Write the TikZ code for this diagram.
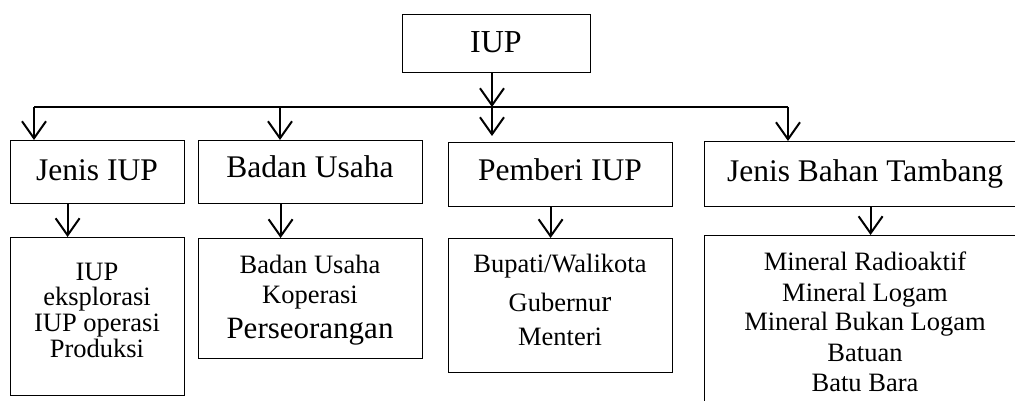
\documentclass[tikz,border=0pt]{standalone}
\usepackage{fontspec}
\setmainfont{Liberation Serif}
\usetikzlibrary{arrows.meta}
\begin{document}
\begin{tikzpicture}[x=1pt,y=-1pt,
  box/.style={draw, line width=1.2pt, inner sep=0pt, anchor=north west},
  conn/.style={line width=2pt, -{Straight Barb[length=17pt,width=24pt,line width=2pt]}},
  bus/.style={line width=2pt},
  lab/.style={font=\fontsize{31.5}{36}\selectfont, anchor=base, inner sep=0pt},
  sm/.style={font=\fontsize{26.5}{30}\selectfont, anchor=base, inner sep=0pt}]
\useasboundingbox (0,0) rectangle (1015,401);
\clip (0,0) rectangle (1015,401);
% boxes
\node[box, minimum width=188pt, minimum height=58pt] (top) at (402,14) {};
\node[box, minimum width=174pt, minimum height=63pt] (jenis) at (10,140) {};
\node[box, minimum width=224pt, minimum height=63pt] (badan) at (198,140) {};
\node[box, minimum width=224pt, minimum height=64pt] (pemberi) at (448,142) {};
\node[box, minimum width=330pt, minimum height=65pt] (bahan) at (704,141) {};
\node[box, minimum width=174pt, minimum height=158pt] (jenisL) at (10,237) {};
\node[box, minimum width=224pt, minimum height=120pt] (badanL) at (198,238) {};
\node[box, minimum width=224pt, minimum height=134pt] (pemberiL) at (448,238) {};
\node[box, minimum width=330pt, minimum height=200pt] (bahanL) at (704,235) {};
% texts
\node[lab, font=\fontsize{32}{36}\selectfont] (tTop) at (496,53) {IUP};
\node[lab] (tJenis) at (97,180) {Jenis IUP};
\node[lab] (tBadan) at (310,178) {Badan Usaha};
\node[lab] (tPemberi) at (560,181) {Pemberi IUP};
\node[lab] (tBahan) at (865,182) {Jenis Bahan Tambang};
\node[sm] (j1) at (97,280) {IUP};
\node[sm] (j2) at (97,305.5) {eksplorasi};
\node[sm] (j3) at (97,331.5) {IUP operasi};
\node[sm] (j4) at (97,357) {Produksi};
\node[sm] (b1) at (310,273) {Badan Usaha};
\node[sm] (b2) at (310,303) {Koperasi};
\node[sm, font=\fontsize{31}{36}\selectfont] (b3) at (310,338) {Perseorangan};
\node[sm] (p1) at (560,272) {Bupati/Walikota};
\node[sm] (p2) at (560,311.5) {Gubernu{\fontsize{30}{36}\selectfont r}};
\node[sm] (p3) at (560,345) {Menteri};
\node[sm] (m1) at (865,270) {Mineral Radioaktif};
\node[sm] (m2) at (865,301.5) {Mineral Logam};
\node[sm] (m3) at (865,330) {Mineral Bukan Logam};
\node[sm] (m4) at (865,361.5) {Batuan};
\node[sm] (m5) at (865,391.5) {Batu Bara};
% connectors
\coordinate (busL) at (34,107);
\coordinate (busR) at (788,107);
\coordinate (busB) at (280,107);
\coordinate (hub) at (492,107);
\draw[bus] (busL) -- (busR);
\draw[conn] (top.south -| hub) -- (hub);
\draw[conn] (busL) -- (jenis.north -| busL);
\draw[conn] (busB) -- (badan.north -| busB);
\draw[conn, shorten >=6pt] (hub) -- (pemberi.north -| hub);
\draw[conn] (busR) -- (bahan.north -| busR);
\draw[conn] ([xshift=-30pt]jenis.south) -- ([xshift=-30pt]jenisL.north);
\draw[conn] ([xshift=-30pt]badan.south) -- ([xshift=-30pt]badanL.north);
\draw[conn] ([xshift=-10pt]pemberi.south) -- ([xshift=-10pt]pemberiL.north);
\draw[conn] ([xshift=1pt]bahan.south) -- ([xshift=1pt]bahanL.north);
\end{tikzpicture}
\end{document}
